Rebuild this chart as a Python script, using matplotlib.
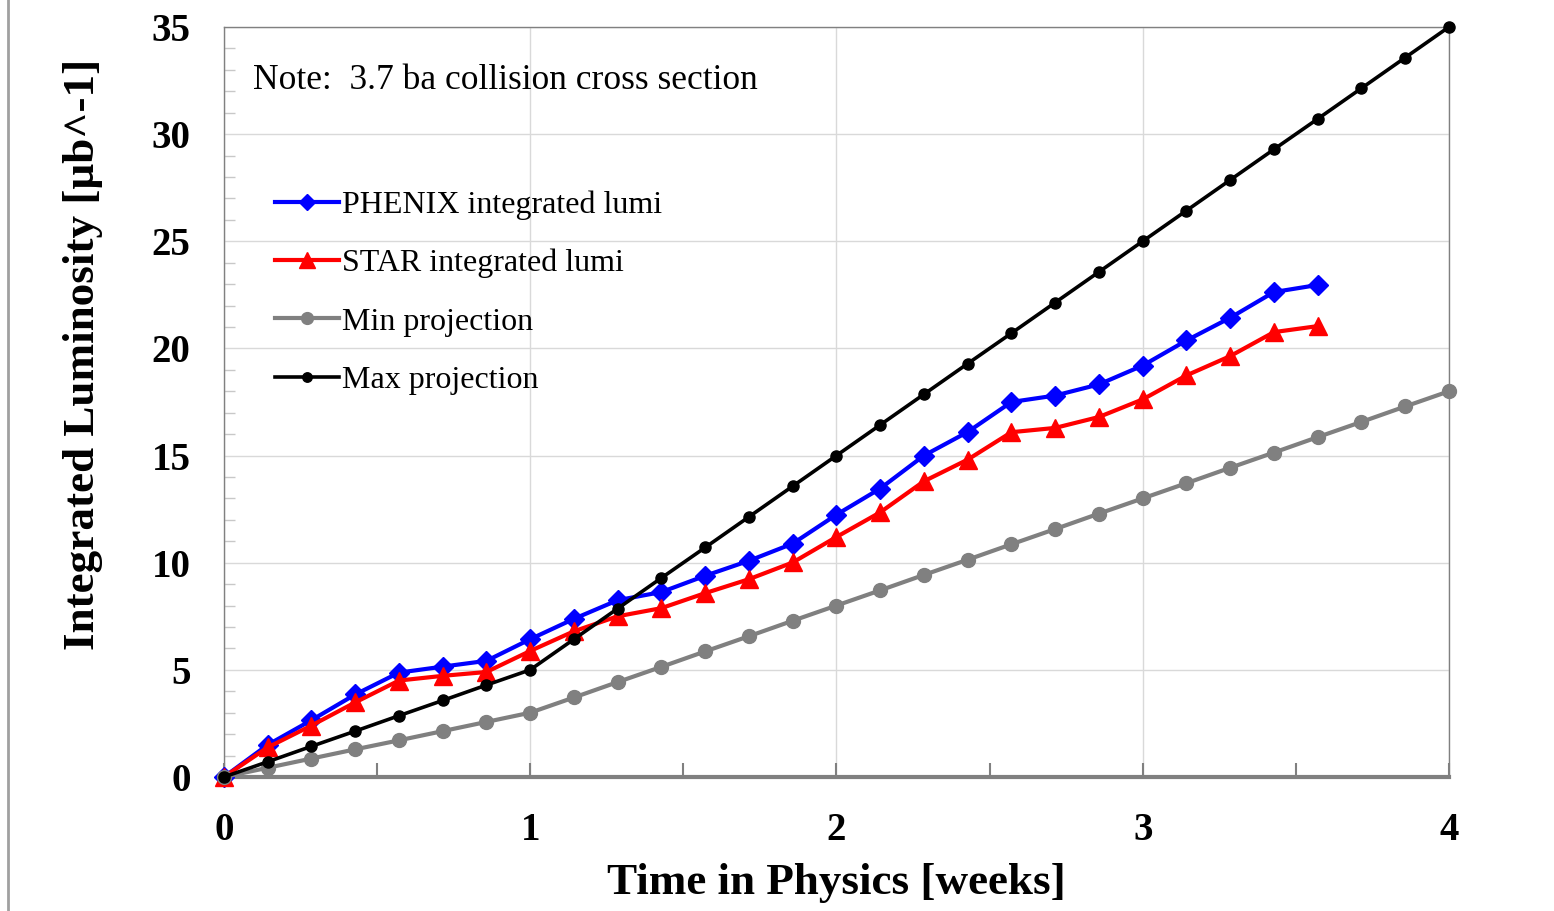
import numpy as np
import matplotlib
matplotlib.use('Agg')
import matplotlib.pyplot as plt
from matplotlib.lines import Line2D

plt.rcParams['font.family'] = ['Liberation Serif', 'DejaVu Serif']

# time axis: one point per day, in weeks
days = np.arange(29)
weeks = days / 7.0

# values (integrated luminosity, ub^-1)
phenix = [0, 1.5, 2.65, 3.85, 4.87, 5.15, 5.42, 6.43, 7.38, 8.25, 8.63, 9.39,
          10.09, 10.89, 12.24, 13.46, 15.0, 16.1, 17.5, 17.8, 18.32, 19.2,
          20.37, 21.43, 22.63, 22.96]
star = [0, 1.38, 2.4, 3.48, 4.5, 4.72, 4.9, 5.88, 6.8, 7.5, 7.88, 8.58,
        9.23, 10.01, 11.2, 12.35, 13.8, 14.81, 16.09, 16.29, 16.8, 17.62,
        18.74, 19.64, 20.76, 21.04]
min_proj = [0, 0.43, 0.86, 1.29, 1.71, 2.14, 2.57, 3.0, 3.71, 4.43, 5.14,
            5.86, 6.57, 7.29, 8.0, 8.71, 9.43, 10.14, 10.86, 11.57, 12.29,
            13.0, 13.71, 14.43, 15.14, 15.86, 16.57, 17.29, 18.0]
max_proj = [0, 0.71, 1.43, 2.14, 2.86, 3.57, 4.29, 5.0, 6.43, 7.86, 9.29,
            10.71, 12.14, 13.57, 15.0, 16.43, 17.86, 19.29, 20.71, 22.14,
            23.57, 25.0, 26.43, 27.86, 29.29, 30.71, 32.14, 33.57, 35.0]

fig = plt.figure(figsize=(15.54, 9.11), dpi=100)
ax = fig.add_axes([0.1441, 0.1471, 0.7883, 0.8233])

ax.plot(weeks[:len(phenix)], phenix, color='#0000ff', lw=3, marker='D',
        ms=10, label='PHENIX integrated lumi', zorder=3)
ax.plot(weeks[:len(star)], star, color='#ff0000', lw=3, marker='^',
        ms=13, label='STAR integrated lumi', zorder=4)
ax.plot(weeks, min_proj, color='#808080', lw=3, marker='o',
        ms=10, label='Min projection', zorder=5)
ax.plot(weeks, max_proj, color='#000000', lw=2.6, marker='o',
        ms=8, label='Max projection', zorder=6)

ax.set_xlim(0, 4)
ax.set_ylim(0, 35)
ax.set_xticks([0, 1, 2, 3, 4])
ax.set_xticks(np.arange(0, 4.01, 0.5), minor=True)
ax.set_yticks(np.arange(0, 36, 5))
ax.set_yticks(np.arange(0, 36, 1), minor=True)

ax.grid(True, which='major', color='#d9d9d9', lw=1)
ax.tick_params(axis='x', which='both', direction='in', length=10,
               color='#808080', width=1.5, pad=25, labelsize=28)
ax.tick_params(axis='y', which='major', length=0, pad=24, labelsize=28)
ax.tick_params(axis='y', which='minor', direction='in', length=8,
               color='#c8c8c8', width=1)
for lab in ax.get_xticklabels() + ax.get_yticklabels():
    lab.set_fontweight('bold')

for side in ['top', 'right', 'left']:
    ax.spines[side].set_color('#808080')
    ax.spines[side].set_linewidth(1)
ax.spines['bottom'].set_color('#808080')
ax.spines['bottom'].set_linewidth(3)

for ln in ax.get_lines():
    ln.set_clip_on(False)

ax.set_xlabel('Time in Physics [weeks]', fontsize=32.5, fontweight='bold',
              labelpad=10)
ax.set_ylabel('Integrated Luminosity [\u03bcb^-1]', fontsize=32.5,
              fontweight='bold')
ax.yaxis.set_label_coords(-0.0985, 0.563)

ax.text(0.024, 0.928, 'Note:  3.7 ba collision cross section',
        transform=ax.transAxes, fontsize=25.5, va='center', ha='left')

ax.legend(loc='upper left', bbox_to_anchor=(0.018, 0.82), frameon=False,
          fontsize=23, handlelength=2.0, handletextpad=0.12,
          labelspacing=0.9, markerscale=0.85)

# thin frame line at the left edge of the picture
fig.add_artist(Line2D([0.005, 0.005], [0, 1], transform=fig.transFigure,
                      color='#a0a0a0', lw=2))

fig.savefig('out.png', dpi=100)
